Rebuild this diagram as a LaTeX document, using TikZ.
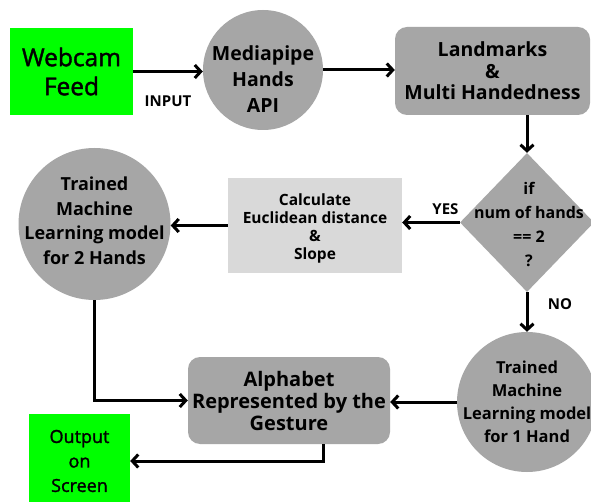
\documentclass[tikz,border=0pt]{standalone}
\usepackage{fontspec}
\setmainfont{Open Sans}
\newfontfamily\semibold[FakeBold=1.6]{Open Sans}
\usetikzlibrary{arrows.meta,positioning,shapes.geometric}
\definecolor{gestGreen}{HTML}{00FF00}
\definecolor{gestGray}{HTML}{A6A6A6}
\definecolor{gestLight}{HTML}{D9D9D9}

\tikzset{
  greenbox/.style={fill=gestGreen,inner sep=0pt,align=center},
  graybox/.style={fill=gestGray,rounded corners=12pt,inner sep=0pt,align=center,
                  font=\bfseries\fontsize{19.5}{21.5}\selectfont},
  grayball/.style={circle,fill=gestGray,inner sep=0pt},
  balltext/.style={align=center,font=\bfseries\fontsize{18}{24.5}\selectfont},
  flow/.style={line width=3pt,-{Straight Barb[length=6pt,width=13pt]}},
  lbl/.style={font=\bfseries\fontsize{15}{17}\selectfont,inner sep=0pt}
}

\begin{document}
\begin{tikzpicture}[x=1pt,y=-1pt]
  \fill[white] (0,0) rectangle (591,502);
  \useasboundingbox (0,0) rectangle (591,502);
  \clip (0,0) rectangle (591,502);

  % top row
  \node[greenbox,minimum width=123pt,minimum height=87pt,
        font=\semibold\fontsize{24.5}{29}\selectfont] (webcam) at (71.5,71.5) {Webcam\\Feed};
  \node[grayball,minimum size=120pt,
        label={[balltext,font=\bfseries\fontsize{19.5}{26}\selectfont,yshift=-9pt]center:Mediapipe\\Hands\\API}]
        (mediapipe) at (263,70) {};
  \node[graybox,minimum width=195pt,minimum height=88pt] (landmarks) at (492.5,71)
        {Landmarks\\\&\\Multi Handedness};

  % decision
  \node[diamond,fill=gestGray,inner sep=0pt,minimum width=134pt,minimum height=139pt,
        label={[balltext,font=\bfseries\fontsize{16}{24}\selectfont,xshift=2pt,yshift=-2pt]center:if\\num of hands\\== 2\\?}]
        (decide) at (527,222.5) {};
  \node[fill=gestLight,minimum width=174pt,minimum height=95pt,inner sep=0pt,
        label={[align=center,font=\bfseries\fontsize{15.5}{18}\selectfont,yshift=-3pt]center:Calculate\\Euclidean distance\\\&\\Slope}]
        (calc) at (315,225.5) {};
  \node[grayball,minimum size=152pt,
        label={[balltext,yshift=3pt]center:Trained\\Machine\\Learning model\\for 2 Hands}]
        (twohands) at (94.5,224) {};

  % bottom row
  \node[grayball,minimum size=140pt,
        label={[balltext,font=\bfseries\fontsize{16.5}{23}\selectfont]center:Trained\\Machine\\Learning model\\for 1 Hand}]
        (onehand) at (527,402) {};
  \node[graybox,minimum width=202pt,minimum height=87pt,
        font=\bfseries\fontsize{20}{22}\selectfont] (alphabet) at (289,400.5)
        {Alphabet\\Represented by the\\Gesture};
  \node[greenbox,minimum width=101pt,minimum height=94pt,
        font=\semibold\fontsize{18}{24.5}\selectfont] (output) at (79.5,461) {Output\\on\\Screen};

  % connectors
  \draw[flow] (webcam.east) -- (webcam.east -| mediapipe.west)
    node[lbl,midway,yshift=-30pt] (input) {INPUT};
  \draw[flow] (mediapipe.east) -- (mediapipe.east -| landmarks.west);
  \draw[flow] (landmarks.south -| decide.north) -- (decide.north);
  \draw[flow] (decide.west) -- (decide.west -| calc.east)
    node[lbl,pos=0.25,yshift=13pt] (yes) {YES};
  \draw[flow] (calc.west) -- (calc.west -| twohands.east);
  \draw[flow] (twohands.south) |- (alphabet.west);
  \draw[flow] (decide.south) -- (onehand.north)
    node[lbl,midway,xshift=33pt,yshift=8pt] (no) {NO};
  \draw[flow] (onehand.west) -- (onehand.west -| alphabet.east);
  \draw[flow] ([xshift=34pt]alphabet.south) |- (output.east);
\end{tikzpicture}
\end{document}
